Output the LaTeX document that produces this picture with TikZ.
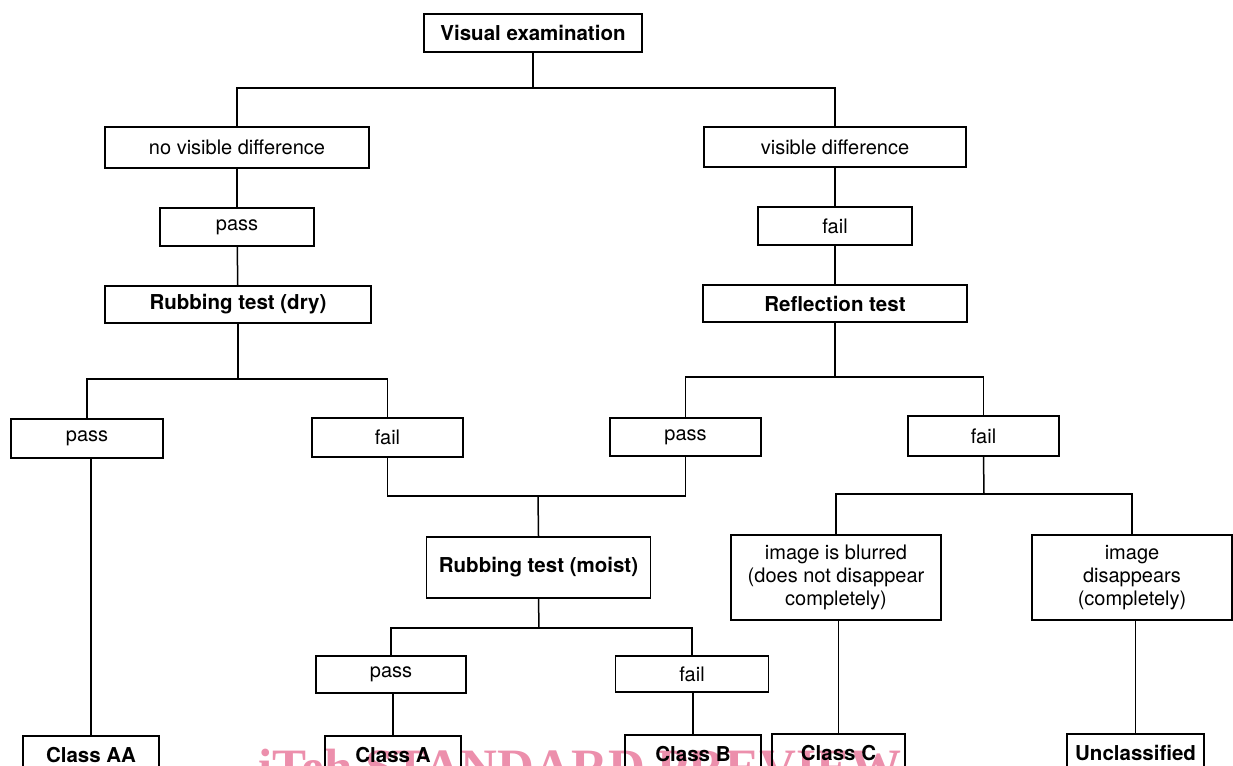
\documentclass[tikz,border=0pt]{standalone}
\usepackage{fontspec}
\setmainfont{TeX Gyre Heros}
\newfontfamily\wmfont{Liberation Serif}
\definecolor{wmpink}{RGB}{236,143,172}
\begin{document}
\begin{tikzpicture}[x=1pt,y=-1pt,
  box/.style={draw, line width=1.8pt, inner sep=0pt, align=center,
    font=\fontsize{20}{23}\selectfont},
  bbox/.style={box, font=\fontsize{20.5}{23}\selectfont\bfseries},
  conn/.style={line width=1.5pt}]
\useasboundingbox (0,0) rectangle (1233,765);
% watermark
\node[anchor=base west, inner sep=0pt, text=wmpink,
  font=\wmfont\fontsize{51}{55}\selectfont\bfseries] (wm) at (258,784) {iTeh STANDARD PREVIEW};
% nodes
\node[bbox, minimum width=218pt, minimum height=38pt] (ve) at (533,33) {Visual examination};
\node[box, minimum width=264pt, minimum height=41pt] (nvd) at (237,147.5) {no visible difference};
\node[box, minimum width=262pt, minimum height=40pt] (vd) at (835,147) {visible difference};
\node[box, minimum width=154pt, minimum height=38pt] (p1) at (237,227) {pass};
\node[box, minimum width=154pt, minimum height=38pt] (f1) at (835,226) {fail};
\node[bbox, minimum width=266pt, minimum height=37pt] (rd) at (238,304.5) {Rubbing test (dry)};
\node[bbox, minimum width=264pt, minimum height=37pt] (rt) at (835,303.5) {Reflection test};
\node[box, minimum width=152pt, minimum height=39pt] (p2) at (87,438.5) {pass};
\node[box, minimum width=151pt, minimum height=39pt] (f2) at (387.5,437.5) {fail};
\node[box, minimum width=151pt, minimum height=38pt] (p3) at (685.5,437) {pass};
\node[box, minimum width=151pt, minimum height=40pt] (f3) at (983.5,436) {fail};
\node[bbox, minimum width=224pt, minimum height=61pt] (rm) at (538.5,567.5) {Rubbing test (moist)};
\node[box, minimum width=150pt, minimum height=37pt] (p4) at (391,674.5) {pass};
\node[box, minimum width=153pt, minimum height=36pt] (f4) at (692,674) {fail};
\node[box, minimum width=210pt, minimum height=85pt] (ib) at (836,577.5) {image is blurred\\(does not disappear\\completely)};
\node[box, minimum width=200pt, minimum height=85pt] (id) at (1132,577.5) {image\\disappears\\(completely)};
\node[bbox, minimum width=136pt, minimum height=38pt] (cAA) at (91,755) {Class AA};
\node[bbox, minimum width=136pt, minimum height=38pt] (cA) at (393,755) {Class A};
\node[bbox, minimum width=136pt, minimum height=38pt] (cB) at (693,754) {Class B};
\node[bbox, minimum width=133pt, minimum height=38pt] (cC) at (838.5,753) {Class C};
\node[bbox, minimum width=137pt, minimum height=38pt] (uc) at (1135.5,753) {Unclassified};
% junctions
\coordinate (j1) at (533,88);
\coordinate (j2) at (238,379);
\coordinate (j3) at (835,377);
\coordinate (j4) at (538,496);
\coordinate (j5) at (539,628);
\coordinate (j6) at (984,494);
% connectors
\draw[conn] (ve.south) -- (j1);
\draw[conn] (nvd.north) |- (j1) -| (vd.north);
\draw[conn] (nvd) -- (p1);
\draw[conn] (p1) -- (rd);
\draw[conn] (vd) -- (f1);
\draw[conn] (f1) -- (rt);
\draw[conn] (rd.south) -- (j2);
\draw[conn] (p2.north) |- (j2) -| (f2.north);
\draw[conn] (rt.south) -- (j3);
\draw[conn] (p3.north) |- (j3) -| (f3.north);
\draw[conn] (f2.south) |- (j4) -| (p3.south);
\draw[conn] (j4) -- (rm.north);
\draw[conn] (rm.south) -- (j5);
\draw[conn] (p4.north) |- (j5) -| (f4.north);
\draw[conn] (f3.south) -- (j6);
\draw[conn] (ib.north) |- (j6) -| (id.north);
\draw[conn] (cAA.north) -- (cAA.north |- p2.south);
\draw[conn] (cA.north) -- (cA.north |- p4.south);
\draw[conn] (cB.north) -- (cB.north |- f4.south);
\draw[conn] (cC.north) -- (cC.north |- ib.south);
\draw[conn] (uc.north) -- (uc.north |- id.south);
\end{tikzpicture}
\end{document}
